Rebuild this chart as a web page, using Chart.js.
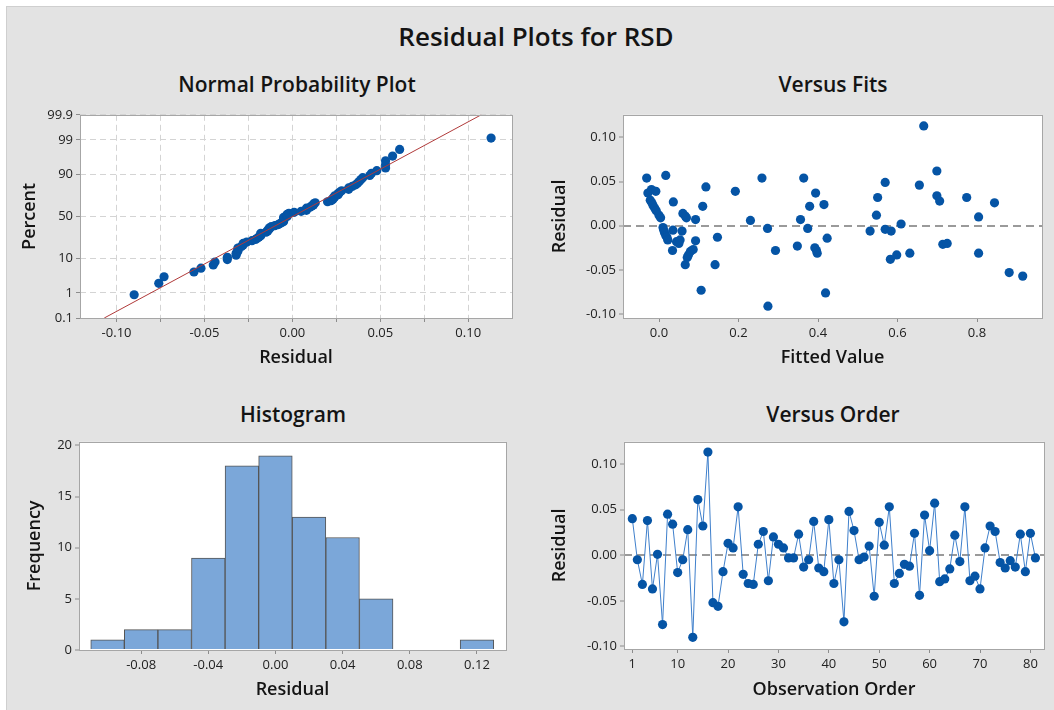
<!DOCTYPE html>
<html>
<head>
<meta charset="utf-8">
<script src="https://cdn.jsdelivr.net/npm/chart.js@4.4.1/dist/chart.umd.min.js"></script>
<style>
html,body{margin:0;padding:0;background:#fff;width:1054px;height:710px;overflow:hidden;font-family:"Open Sans",sans-serif;}
#panel{position:absolute;left:6px;top:6px;width:1048px;height:704px;background:#e3e3e3;border-left:1px solid #cfcfcf;border-top:1px solid #cfcfcf;box-sizing:border-box;}
canvas{position:absolute;}
.ttl{position:absolute;transform:translate(-50%,-50%);white-space:nowrap;color:#141414;line-height:1;}
#main{left:536px;top:36px;font-size:26px;font-weight:600;}
.sub{font-size:21px;font-weight:600;}
</style>
</head>
<body>
<div id="panel"></div>
<div class="ttl" id="main">Residual Plots for RSD</div>
<div class="ttl sub" style="left:297px;top:84px">Normal Probability Plot</div>
<div class="ttl sub" style="left:833px;top:84px">Versus Fits</div>
<div class="ttl sub" style="left:293px;top:414px">Histogram</div>
<div class="ttl sub" style="left:833px;top:414px">Versus Order</div>

<canvas id="npp" width="501" height="265" style="left:19px;top:104px"></canvas>
<canvas id="fits" width="501" height="265" style="left:549px;top:104px"></canvas>
<canvas id="hist" width="490" height="270" style="left:24px;top:431px"></canvas>
<canvas id="order" width="501" height="270" style="left:549px;top:431px"></canvas>

<script>
// residuals in observation order
var orderResid = [0.040,-0.005,-0.032,0.038,-0.037,0.001,-0.076,0.045,0.034,-0.019,
  -0.005,0.028,-0.090,0.061,0.032,0.113,-0.052,-0.056,-0.018,0.013,
  0.008,0.053,-0.021,-0.031,-0.032,0.012,0.026,-0.028,0.020,0.012,
  0.008,-0.003,-0.003,0.023,-0.013,-0.005,0.037,-0.014,-0.018,0.039,
  -0.031,-0.005,-0.073,0.048,0.027,-0.005,-0.002,0.010,-0.045,0.036,
  0.011,0.053,-0.031,-0.020,-0.010,-0.012,0.024,-0.044,0.044,0.005,
  0.057,-0.029,-0.026,-0.015,0.022,-0.007,0.053,-0.028,-0.023,-0.037,
  0.008,0.032,0.026,-0.008,-0.014,-0.006,-0.013,0.023,-0.018,0.024,-0.003];
var orderTicks = [1,10,20,30,40,50,60,70,80];

// versus fits
var fitVal = [-0.031,0.017,-0.019,-0.028,-0.008,-0.022,-0.018,-0.015,-0.011,-0.007,
  0.000,0.004,0.036,0.060,0.066,0.069,0.092,0.110,0.118,0.010,
  0.012,0.014,0.017,0.020,0.022,0.035,0.044,0.050,0.053,0.058,
  0.034,0.066,0.071,0.074,0.079,0.086,0.092,0.106,0.141,0.147,
  0.192,0.230,0.259,0.273,0.274,0.293,0.348,0.356,0.364,0.374,
  0.379,0.394,0.392,0.396,0.398,0.415,0.419,0.423,0.531,0.547,
  0.550,0.569,0.569,0.584,0.582,0.598,0.609,0.631,0.655,0.666,
  0.699,0.699,0.706,0.714,0.725,0.774,0.804,0.804,0.844,0.881,0.915];
var fitRes = [0.054,0.057,0.041,0.037,0.039,0.029,0.026,0.023,0.020,0.017,
  0.012,0.009,0.027,0.014,0.011,0.009,0.007,0.022,0.044,-0.002,
  -0.005,-0.008,-0.011,-0.013,-0.016,-0.005,-0.018,-0.020,-0.016,-0.006,
  -0.028,-0.044,-0.036,-0.033,-0.029,-0.027,-0.017,-0.073,-0.044,-0.013,
  0.039,0.006,0.054,-0.003,-0.091,-0.028,-0.023,0.007,0.054,-0.003,
  0.022,0.037,-0.025,-0.028,-0.031,0.024,-0.076,-0.014,-0.006,0.012,
  0.032,0.049,-0.004,-0.006,-0.038,-0.033,0.002,-0.031,0.046,0.113,
  0.062,0.034,0.028,-0.021,-0.020,0.032,0.010,-0.031,0.026,-0.053,-0.057];

// histogram
var histMid = [-0.10,-0.08,-0.06,-0.04,-0.02,0.00,0.02,0.04,0.06,0.08,0.10,0.12];
var histFreq = [1,2,2,9,18,19,13,11,5,0,0,1];
var histTicks = [-0.08,-0.04,0.00,0.04,0.08,0.12];

// normal probability plot
var pctTicks = [0.1,1,10,50,90,99,99.9];
var nppGridX = [-0.1,-0.075,-0.05,-0.025,0,0.025,0.05,0.075,0.1];
var fitLineX = [-0.107,0.1074];
var fitLinePct = [0.1,99.9];

var blue = '#0554a5';
var tickFont = {family:'Open Sans', size:13};
var titleFont = {family:'Open Sans', size:18, weight:'600'};

function zOf(p){ // inverse standard normal (Acklam)
  var a=[-39.69683028665376,220.9460984245205,-275.9285104469687,138.3577518672690,-30.66479806614716,2.506628277459239];
  var b=[-54.47609879822406,161.5858368580409,-155.6989798598866,66.80131188771972,-13.28068155288572];
  var c=[-0.007784894002430293,-0.3223964580411365,-2.400758277161838,-2.549732539343734,4.374664141464968,2.938163982698783];
  var d=[0.007784695709041462,0.3224671290700398,2.445134137142996,3.754408661907416];
  var q,r;
  if(p<0.02425){q=Math.sqrt(-2*Math.log(p));return (((((c[0]*q+c[1])*q+c[2])*q+c[3])*q+c[4])*q+c[5])/((((d[0]*q+d[1])*q+d[2])*q+d[3])*q+1);}
  if(p>1-0.02425){q=Math.sqrt(-2*Math.log(1-p));return -(((((c[0]*q+c[1])*q+c[2])*q+c[3])*q+c[4])*q+c[5])/((((d[0]*q+d[1])*q+d[2])*q+d[3])*q+1);}
  q=p-0.5;r=q*q;
  return (((((a[0]*r+a[1])*r+a[2])*r+a[3])*r+a[4])*r+a[5])*q/(((((b[0]*r+b[1])*r+b[2])*r+b[3])*r+b[4])*r+1);
}

var frame = {
  id:'frame',
  beforeDraw:function(ch){
    var a=ch.chartArea, c=ch.ctx;
    c.save(); c.fillStyle='#fff'; c.fillRect(a.left,a.top,a.right-a.left,a.bottom-a.top); c.restore();
  },
  afterDraw:function(ch){
    var a=ch.chartArea, c=ch.ctx;
    c.save(); c.strokeStyle='#a6a6a6'; c.lineWidth=1;
    c.strokeRect(Math.round(a.left)+0.5,Math.round(a.top)+0.5,Math.round(a.right-a.left),Math.round(a.bottom-a.top));
    c.restore();
  }
};

function fixW(w){return function(s){s.width=w;};}
function fixH(h){return function(s){s.height=h;};}
function setTicks(list){return function(s){s.ticks=list.map(function(v){return {value:v};});};}

function xScale(opts){
  return {
    type:'linear', min:opts.min, max:opts.max, offset:false,
    afterBuildTicks:setTicks(opts.ticks), afterFit:fixH(opts.h),
    border:{display:false},
    grid:{drawOnChartArea:false, tickLength:4, tickColor:'#8c8c8c', offset:false},
    ticks:{font:tickFont, color:'#222', padding:3, maxRotation:0, autoSkip:false, callback:opts.fmt},
    title:{display:true, text:opts.title, font:titleFont, color:'#141414', padding:0}
  };
}
function yScale(opts){
  return {
    type:'linear', min:opts.min, max:opts.max,
    afterBuildTicks:setTicks(opts.ticks), afterFit:fixW(opts.w),
    border:{display:false, dash:[8,5]},
    grid:{drawOnChartArea:!!opts.zero, tickLength:4, tickColor:'#8c8c8c', tickWidth:1,
      color:function(ctx){return ctx.tick && ctx.tick.value===0 ? '#9a9a9a' : 'rgba(0,0,0,0)';},
      lineWidth:function(ctx){return ctx.tick && ctx.tick.value===0 ? 2 : 0;}},
    ticks:{font:tickFont, color:'#222', padding:3, autoSkip:false, callback:opts.fmt},
    title:{display:true, text:opts.title, font:titleFont, color:'#141414', padding:0}
  };
}
var f2 = function(v){return v.toFixed(2);};
var f1 = function(v){return v.toFixed(1);};
var f0 = function(v){return String(v);};
var common = {responsive:false, animation:false, events:[],
  plugins:{legend:{display:false}, tooltip:{enabled:false}}};

// ---- normal probability plot
var sorted = orderResid.slice().sort(function(a,b){return a-b;});
var nppPts = sorted.map(function(v,i){return {x:v, y:zOf((i+1-0.3)/(sorted.length+0.4))};});
var linePts = fitLineX.map(function(v,i){return {x:v, y:zOf(fitLinePct[i]/100)};});
var nppY = yScale({min:zOf(0.001), max:zOf(0.999), ticks:pctTicks.map(function(p){return zOf(p/100);}), w:61, title:'Percent',
  fmt:function(v,i){return String(pctTicks[i]);}});
nppY.grid.drawOnChartArea = true;
nppY.grid.color = '#d4d4d4'; nppY.grid.lineWidth = 1;
nppY.border.dash = [6,4];
var nppX = xScale({min:-0.1208, max:0.1249, ticks:nppGridX, h:51, title:'Residual',
  fmt:function(v){return Math.abs(v*20-Math.round(v*20))<1e-6 ? v.toFixed(2) : '';}});
nppX.grid.drawOnChartArea = true; nppX.grid.color = '#d4d4d4';
nppX.border.dash = [6,4];
new Chart(document.getElementById('npp'), {
  type:'scatter',
  data:{datasets:[
    {data:linePts, showLine:true, borderColor:'#b03a3a', borderWidth:1, pointRadius:0},
    {data:nppPts, pointRadius:4.6, pointBackgroundColor:blue, pointBorderWidth:0}
  ]},
  options:Object.assign({}, common, {layout:{padding:{top:10,right:8,left:0,bottom:0}}, scales:{x:nppX, y:nppY}}),
  plugins:[frame]
});

// ---- versus fits
new Chart(document.getElementById('fits'), {
  type:'scatter',
  data:{datasets:[{data:fitVal.map(function(v,i){return {x:v, y:fitRes[i]};}),
    pointRadius:4.6, pointBackgroundColor:blue, pointBorderWidth:0}]},
  options:Object.assign({}, common, {layout:{padding:{top:10,right:8,left:0,bottom:0}},
    scales:{
      x:xScale({min:-0.0906, max:0.9635, ticks:[0,0.2,0.4,0.6,0.8], h:51, title:'Fitted Value', fmt:f1}),
      y:yScale({min:-0.1044, max:0.1256, ticks:[-0.1,-0.05,0,0.05,0.1], w:74, title:'Residual', fmt:f2, zero:true})
    }}),
  plugins:[frame]
});

// ---- histogram
new Chart(document.getElementById('hist'), {
  type:'bar',
  data:{datasets:[{data:histMid.map(function(v,i){return {x:v, y:histFreq[i]};}),
    backgroundColor:'#7ba7d9', borderColor:'#555', borderWidth:1, borderSkipped:'bottom',
    barPercentage:1, categoryPercentage:1}]},
  options:Object.assign({}, common, {layout:{padding:{top:10,right:8,left:0,bottom:0}},
    scales:{
      x:xScale({min:-0.117, max:0.1373, ticks:histTicks, h:51, title:'Residual', fmt:f2}),
      y:yScale({min:0, max:20.36, ticks:[0,5,10,15,20], w:55, title:'Frequency', fmt:f0})
    }}),
  plugins:[frame]
});

// ---- versus order
new Chart(document.getElementById('order'), {
  type:'scatter',
  data:{datasets:[{data:orderResid.map(function(v,i){return {x:i+1, y:v};}),
    showLine:true, borderColor:'#3f80cc', borderWidth:1,
    pointRadius:4.6, pointBackgroundColor:blue, pointBorderWidth:0}]},
  options:Object.assign({}, common, {layout:{padding:{top:10,right:6,left:0,bottom:0}},
    scales:{
      x:xScale({min:-0.65, max:82.7, ticks:orderTicks, h:52, title:'Observation Order', fmt:f0}),
      y:yScale({min:-0.1028, max:0.1243, ticks:[-0.1,-0.05,0,0.05,0.1], w:75, title:'Residual', fmt:f2, zero:true})
    }}),
  plugins:[frame]
});
</script>
</body>
</html>
